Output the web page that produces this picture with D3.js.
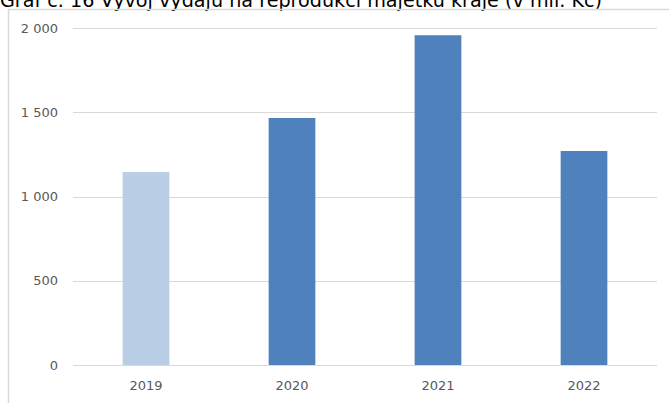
<!DOCTYPE html>
<html><head><meta charset="utf-8">
<script src="https://cdn.jsdelivr.net/npm/d3@7"></script>
<style>body{margin:0;background:#fff}svg{display:block}</style>
</head><body>
<script>
const title = "Graf č. 16 Vývoj výdajů na reprodukci majetku kraje (v mil. Kč)";
const categories = ["2019", "2020", "2021", "2022"];
const values = [1145, 1466, 1957, 1270];
const barColors = ["#B9CDE5", "#4F81BD", "#4F81BD", "#4F81BD"];
const yTicks = [0, 500, 1000, 1500, 2000];

const W = 669, H = 403;
const svg = d3.select("body").append("svg").attr("width", W).attr("height", H);

svg.append("text").attr("x", 0).attr("y", 7)
  .attr("font-family", "DejaVu Sans").attr("font-size", 19).attr("fill", "#000")
  .attr("textLength", 602).attr("lengthAdjust", "spacingAndGlyphs")
  .text(title);

// frame
svg.append("path").attr("d", "M8.5,410 V9.5 H680").attr("fill", "none")
  .attr("stroke", "#D9D9D9").attr("stroke-width", 1.5);

const x = d3.scaleBand().domain(categories).range([73, 657]).paddingInner(0.68).paddingOuter(0.34);
const y = d3.scaleLinear().domain([0, 2000]).range([365, 28]);

const grid = svg.append("g");
grid.selectAll("line").data(yTicks).join("line")
  .attr("x1", 73).attr("x2", 657)
  .attr("y1", d => Math.round(y(d)) + 0.5).attr("y2", d => Math.round(y(d)) + 0.5)
  .attr("stroke", "#D9D9D9").attr("stroke-width", 1);

svg.append("g").selectAll("text").data(yTicks).join("text")
  .attr("x", 58).attr("y", d => y(d) + 4.5).attr("text-anchor", "end")
  .attr("font-family", "DejaVu Sans").attr("font-size", 13).attr("fill", "#595959")
  .text(d => d >= 1000 ? d3.format(",")(d).replace(/,/g, " ") : d);

svg.append("g").selectAll("rect").data(values).join("rect")
  .attr("x", (d, i) => x(categories[i])).attr("width", x.bandwidth())
  .attr("y", d => y(d)).attr("height", d => y(0) - y(d))
  .attr("fill", (d, i) => barColors[i]);

svg.append("g").selectAll("text").data(categories).join("text")
  .attr("x", d => x(d) + x.bandwidth() / 2).attr("y", 390).attr("text-anchor", "middle")
  .attr("font-family", "DejaVu Sans").attr("font-size", 13).attr("fill", "#595959")
  .text(d => d);
</script>
</body></html>
